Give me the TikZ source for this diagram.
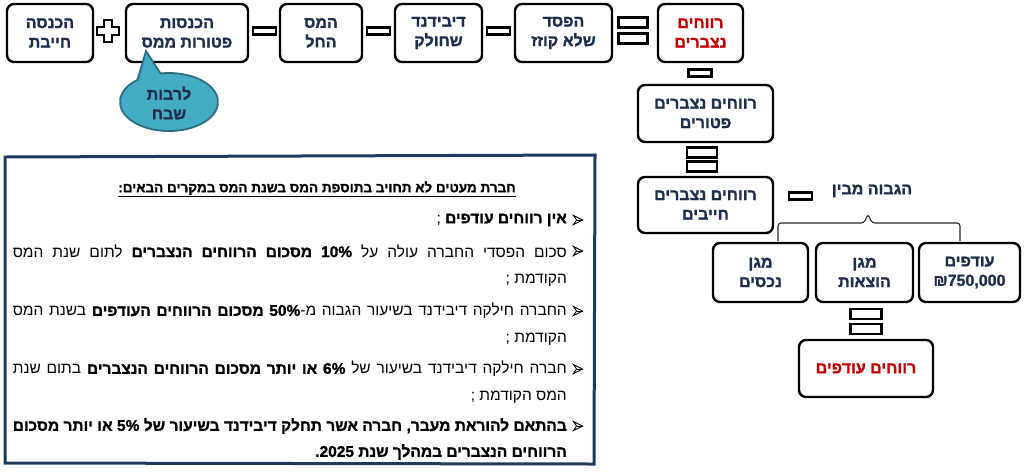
\documentclass[tikz,border=0pt]{standalone}
\usepackage{fontspec}
\setmainfont[Script=Hebrew]{Liberation Sans}
\newfontfamily\heavyfont[Script=Hebrew, BoldFeatures={FakeBold=1.3}]{Liberation Sans}
\TeXXeTstate=1
\newcommand\heb[1]{\beginR #1\endR}
\newcommand\ltrn[1]{\beginL #1\endL}
\definecolor{navy}{HTML}{1F2D4D}
\definecolor{darkred}{HTML}{C00000}
\definecolor{frame}{HTML}{203A5C}
\definecolor{aqua}{HTML}{45AAC4}
\definecolor{aquaedge}{HTML}{2C6E80}
\tikzset{
  stepbox/.style={draw=black, line width=2.4pt, rounded corners=7pt, fill=white,
    align=center, text=navy, font=\heavyfont\bfseries\fontsize{16}{19.5}\selectfont,
    inner sep=0pt, minimum height=58pt},
  redtext/.style={text=darkred},
  opbar/.style={draw=black, line width=2.4pt, fill=white, inner sep=0pt},
  bodytext/.style={anchor=east, inner sep=0pt, font=\fontsize{15.5}{18}\selectfont, text=black},
  boldbody/.style={bodytext, font=\heavyfont\bfseries\fontsize{15.5}{18}\selectfont},
  bracepath/.style={draw=black!85, line width=1.1pt, rounded corners=3pt},
  pics/bulletmark/.style={code={
    \draw[line width=0.9pt, line join=miter, fill=white] (-4.5,-4.5) -- (4.5,0) -- (-4.5,4.5) -- (-1.5,0) -- cycle;
    \draw[line width=0.7pt] (-1.5,0) -- (4.5,0);}},
}
\begin{document}
\begin{tikzpicture}[x=1pt,y=-1pt]
\useasboundingbox (0,0) rectangle (1024,472);
% top row
\node[stepbox, minimum width=86pt] (b1) at (50,33) {\heb{הכנסה}\\\heb{חייבת}};
\node[stepbox, minimum width=122pt] (b2) at (187,33) {\heb{הכנסות}\\\heb{פטורות ממס}};
\node[stepbox, minimum width=82pt] (b3) at (321,33) {\heb{המס}\\\heb{החל}};
\node[stepbox, minimum width=87pt] (b4) at (438.5,33) {\heb{דיבידנד}\\\heb{שחולק}};
\node[stepbox, minimum width=97pt] (b5) at (563.5,33) {\heb{הפסד}\\\heb{שלא קוזז}};
\node[stepbox, redtext, minimum width=85pt] (b6) at (700.5,33) {\heb{רווחים}\\\heb{נצברים}};
% plus
\draw[line width=2.2pt, fill=white] (104,20) -- (112,20) -- (112,27) -- (119,27) -- (119,35) -- (112,35) -- (112,42) -- (104,42) -- (104,35) -- (97,35) -- (97,27) -- (104,27) -- cycle;
\node[opbar, minimum width=23pt, minimum height=7pt] (m1) at (264.5,31) {};
\node[opbar, minimum width=23pt, minimum height=7pt] (m2) at (378.5,31) {};
\node[opbar, minimum width=23pt, minimum height=7pt] (m3) at (498.5,31) {};
\node[opbar, minimum width=29pt, minimum height=10pt] (e1a) at (633,22.5) {};
\node[opbar, minimum width=29pt, minimum height=10pt] (e1b) at (633,38.5) {};
% bubble
\draw[fill=aqua, draw=aquaedge, line width=1.8pt] (137.5,79.8) arc[start angle=130, end angle=460, x radius=49pt, y radius=29pt] -- (146,51) -- cycle;
\node[align=center, text=navy, font=\heavyfont\bfseries\fontsize{16}{19.5}\selectfont, inner sep=0pt] (bub) at (169,103) {\heb{לרבות}\\\heb{שבח}};
% right column
\node[opbar, minimum width=23pt, minimum height=7pt] (m4) at (700,73) {};
\node[stepbox, minimum width=135pt, minimum height=57pt] (b7) at (705.5,113.5) {\heb{רווחים נצברים}\\\heb{פטורים}};
\node[opbar, minimum width=30pt, minimum height=10pt] (e2a) at (702,152.5) {};
\node[opbar, minimum width=30pt, minimum height=10pt] (e2b) at (702,166.5) {};
\node[stepbox, minimum width=135pt, minimum height=56pt] (b8) at (705.5,205) {\heb{רווחים נצברים}\\\heb{חייבים}};
\node[opbar, minimum width=23pt, minimum height=7pt] (m5) at (800.5,196) {};
\node[text=navy, font=\heavyfont\bfseries\fontsize{16}{19.5}\selectfont, inner sep=0pt] (hig) at (872,191) {\heb{הגבוה מבין}};
\draw[bracepath] (778,241) -- (778,223) -- (864,223) -- (868,214) -- (872,223) -- (960,223) -- (960,241);
\node[stepbox, minimum width=95pt, minimum height=59pt] (c1) at (760.5,272.5) {\heb{מגן}\\\heb{נכסים}};
\node[stepbox, minimum width=97pt, minimum height=59pt] (c2) at (864.5,272.5) {\heb{מגן}\\\heb{הוצאות}};
\node[stepbox, minimum width=101pt, minimum height=59pt] (c3) at (969.5,272.5) {\heb{עודפים}\\\heb{\ltrn{₪750,000}}};
\node[opbar, minimum width=31pt, minimum height=10pt] (e3a) at (866,314) {};
\node[opbar, minimum width=31pt, minimum height=10pt] (e3b) at (866,329) {};
\node[stepbox, redtext, minimum width=134pt, minimum height=57pt] (c4) at (866,368.5) {\heb{רווחים עודפים}};
% text frame
\draw[draw=frame, line width=3pt] (5,157) -- (595,155) -- (594,464) -- (5,463) -- cycle;
\node[inner sep=0pt, font=\heavyfont\bfseries\fontsize{13.5}{16}\selectfont] (head) at (317,189) {\underline{\heb{חברת מעטים לא תחויב בתוספת המס בשנת המס במקרים הבאים:}}};
\pic at (578,220) {bulletmark};
\pic at (578,251) {bulletmark};
\pic at (578,311) {bulletmark};
\pic at (578,369) {bulletmark};
\pic at (578,426) {bulletmark};
\node[bodytext] (t1) at (567,220) {\heb{{\heavyfont\bfseries אין רווחים עודפים} ;}};
\node[bodytext] (t2) at (567,251) {\hbox to 554pt{\heb{סכום הפסדי החברה עולה על {\heavyfont\bfseries\ltrn{10\%} מסכום הרווחים הנצברים} לתום שנת המס}}};
\node[bodytext] (t2b) at (567,280) {\heb{הקודמת ;}};
\node[bodytext] (t3) at (567,311) {\hbox to 554pt{\heb{החברה חילקה דיבידנד בשיעור הגבוה מ-{\heavyfont\bfseries\ltrn{50\%} מסכום הרווחים העודפים} בשנת המס}}};
\node[bodytext] (t3b) at (567,339) {\heb{הקודמת ;}};
\node[bodytext] (t4) at (567,369) {\hbox to 554pt{\heb{חברה חילקה דיבידנד בשיעור של {\heavyfont\bfseries\ltrn{6\%} או יותר מסכום הרווחים הנצברים} בתום שנת}}};
\node[bodytext] (t4b) at (567,397) {\heb{המס הקודמת ;}};
\node[boldbody] (t5) at (567,426) {\hbox to 554pt{\heb{בהתאם להוראת מעבר, חברה אשר תחלק דיבידנד בשיעור של \ltrn{5\%} או יותר מסכום}}};
\node[boldbody] (t5b) at (567,452) {\heb{הרווחים הנצברים במהלך שנת \ltrn{2025}.}};
\end{tikzpicture}
\end{document}
